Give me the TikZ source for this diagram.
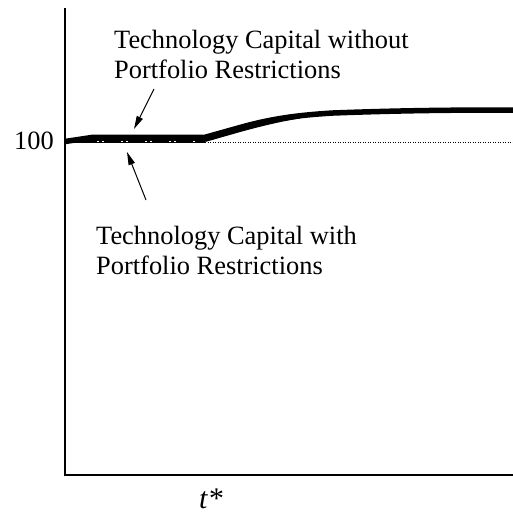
\documentclass[tikz,border=0pt]{standalone}
\usepackage{fontspec}
\setmainfont{Liberation Serif}
\usetikzlibrary{arrows.meta}
\begin{document}
\begin{tikzpicture}[x=1pt,y=-1pt,
  lbl/.style={anchor=base west,inner sep=0pt,font=\fontsize{26.4}{30}\selectfont},
  axis/.style={line width=2pt},
  pointer/.style={line width=1pt,-{Triangle[length=13pt,width=6.5pt]}},
  curve/.style={line width=5.5pt,line join=round}]
\useasboundingbox (0,0) rectangle (513,515);
% axes
\coordinate (top) at (65,8);
\coordinate (origin) at (65,475);
\coordinate (right) at (513,475);
\draw[axis] (top) -- (origin) -- (right);
% reference level
\coordinate (r0) at (65,142.3);
\coordinate (r1) at (513,142.3);
\draw[line width=0.8pt,dash pattern=on 1pt off 1.5pt] (r0) -- (r1);
\node[lbl,anchor=base east] (hundred) at (54,149) {100};
% with restrictions (lower) curve
\draw[line width=3pt] (65,141.5) -- (205,141.5);
\draw[white,line width=1.6pt,dash pattern=on 2pt off 3pt on 2pt off 17pt,dash phase=-17pt] (80,141.6) -- (195,141.6);
\draw[line width=3pt,line join=round] (205,140.5) -- (240,130.5)
  .. controls (260,125) and (280,120) .. (300,117);
% without restrictions curve
\draw[curve] (65,141.5) -- (93,137.3) -- (205,137.3) -- (240,127.5)
  .. controls (265,120.5) and (290,115.5) .. (333,113)
  .. controls (400,110.5) and (450,110) .. (513,110);
% labels
\node[lbl] (l1a) at (114,48) {Technology Capital without};
\node[lbl] (l1b) at (114,78) {Portfolio Restrictions};
\node[lbl] (l2a) at (96,244) {Technology Capital with};
\node[lbl] (l2b) at (96,274) {Portfolio Restrictions};
\node[lbl,font=\fontsize{30}{34}\selectfont\itshape] (tstar) at (199,508) {t*};
% pointers
\coordinate (a1s) at (154,89);
\coordinate (a1e) at (134,129);
\coordinate (a2s) at (146,200);
\coordinate (a2e) at (127,152);
\draw[pointer] (a1s) -- (a1e);
\draw[pointer] (a2s) -- (a2e);
\end{tikzpicture}
\end{document}
